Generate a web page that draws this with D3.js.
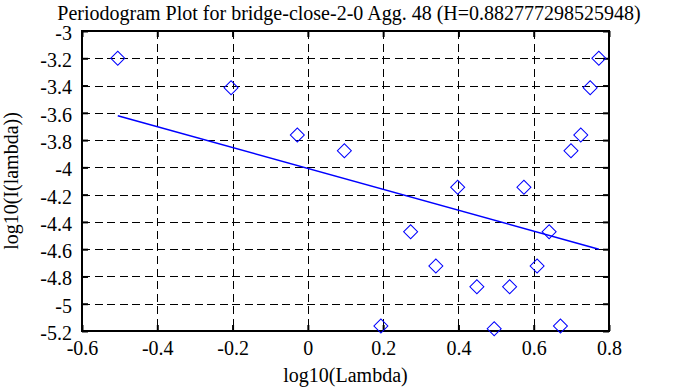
<!DOCTYPE html>
<html>
<head>
<meta charset="utf-8">
<script src="https://cdn.jsdelivr.net/npm/d3@7"></script>
<style>
  body { margin: 0; background: #fff; }
  svg { display: block; }
  svg text { font-family: "Liberation Serif", "Times New Roman", Times, serif; fill: #000; }
</style>
</head>
<body>
<div class="graph"></div>
<script>
// periodogram points
const logLambda = [-0.505, -0.204, -0.028, 0.097, 0.194, 0.273, 0.340, 0.398, 0.449, 0.495,
  0.536, 0.574, 0.609, 0.641, 0.671, 0.699, 0.725, 0.750, 0.773];
const logI = [-3.20, -3.416, -3.763, -3.878, -5.163, -4.472, -4.723, -4.146, -4.875, -5.183,
  -4.875, -4.146, -4.723, -4.472, -5.163, -3.878, -3.763, -3.416, -3.20];

// fitted line (two ends)
const fitX = [-0.505, 0.773];
const fitY = [-3.621, -4.600];

const xTicks = [-0.6, -0.4, -0.2, 0, 0.2, 0.4, 0.6, 0.8];
const xTickLabels = ['-0.6', '-0.4', '-0.2', '0', '0.2', '0.4', '0.6', '0.8'];
const yTicks = [-3, -3.2, -3.4, -3.6, -3.8, -4, -4.2, -4.4, -4.6, -4.8, -5, -5.2];
const yTickLabels = ['-3', '-3.2', '-3.4', '-3.6', '-3.8', '-4', '-4.2', '-4.4', '-4.6', '-4.8', '-5', '-5.2'];

const title = 'Periodogram Plot for bridge-close-2-0 Agg. 48 (H=0.882777298525948)';
const xTitle = 'log10(Lambda)';
const yTitle = 'log10(I(lambda))';

const width = 688;
const height = 387;
const margin = {
  top: 31, right: 79, bottom: 56, left: 82,
};
const fontSize = 20;
const blue = '#0000ff';

const svg = d3.select('.graph').append('svg')
  .attr('width', width)
  .attr('height', height);

const x = d3.scaleLinear().domain([-0.6, 0.8]).range([margin.left, width - margin.right]);
const y = d3.scaleLinear().domain([-5.2, -3]).range([height - margin.bottom, margin.top]);

// dashed grid
const grid = svg.append('g')
  .attr('stroke', '#000')
  .attr('stroke-width', 1)
  .attr('stroke-dasharray', '8,4.5')
  .attr('shape-rendering', 'crispEdges');

grid.selectAll('line.v')
  .data(xTicks.slice(1, -1))
  .enter()
  .append('line')
  .classed('v', true)
  .attr('x1', (d) => Math.round(x(d)) + 0.5)
  .attr('x2', (d) => Math.round(x(d)) + 0.5)
  .attr('y1', y(-3))
  .attr('y2', y(-5.2));

grid.selectAll('line.h')
  .data(yTicks.slice(1, -1))
  .enter()
  .append('line')
  .classed('h', true)
  .attr('x1', x(-0.6))
  .attr('x2', x(0.8))
  .attr('y1', (d) => Math.round(y(d)) + 0.5)
  .attr('y2', (d) => Math.round(y(d)) + 0.5);

// axes with inward ticks on all four sides
const tickLen = 6;
const styleAxis = (g) => {
  g.attr('font-family', null).attr('font-size', fontSize);
  g.select('.domain').remove();
  g.selectAll('.tick line').attr('stroke-width', 2);
};

svg.append('g')
  .attr('transform', `translate(0,${y(-5.2)})`)
  .call(d3.axisBottom(x).tickValues(xTicks).tickSize(-tickLen).tickPadding(10)
    .tickFormat((d, i) => xTickLabels[i]))
  .call(styleAxis);

svg.append('g')
  .attr('transform', `translate(0,${y(-3)})`)
  .call(d3.axisTop(x).tickValues(xTicks).tickSize(-tickLen).tickFormat(''))
  .call(styleAxis);

svg.append('g')
  .attr('transform', `translate(${x(-0.6)},0)`)
  .call(d3.axisLeft(y).tickValues(yTicks).tickSize(-tickLen).tickPadding(10)
    .tickFormat((d, i) => yTickLabels[i]))
  .call(styleAxis)
  .call((g) => g.selectAll('.tick text').attr('dy', '0.42em'));

svg.append('g')
  .attr('transform', `translate(${x(0.8)},0)`)
  .call(d3.axisRight(y).tickValues(yTicks).tickSize(-tickLen).tickFormat(''))
  .call(styleAxis);

// frame
svg.append('rect')
  .attr('x', x(-0.6))
  .attr('y', y(-3))
  .attr('width', x(0.8) - x(-0.6))
  .attr('height', y(-5.2) - y(-3))
  .attr('fill', 'none')
  .attr('stroke', '#000')
  .attr('stroke-width', 2);

// fitted line
const line = d3.line()
  .x((d) => x(d[0]))
  .y((d) => y(d[1]));

svg.append('path')
  .datum(d3.zip(fitX, fitY))
  .attr('d', line)
  .attr('fill', 'none')
  .attr('stroke', blue)
  .attr('stroke-width', 1.6);

// diamond markers
const diamond = d3.symbol().type(d3.symbolSquare).size(98);
svg.append('g')
  .selectAll('path')
  .data(d3.zip(logLambda, logI))
  .enter()
  .append('path')
  .attr('d', diamond)
  .attr('transform', (d) => `translate(${x(d[0])},${y(d[1])}) rotate(45)`)
  .attr('fill', 'none')
  .attr('stroke', blue)
  .attr('stroke-width', 1);

// titles
svg.append('text')
  .attr('x', 349)
  .attr('y', 20)
  .attr('text-anchor', 'middle')
  .attr('font-size', fontSize)
  .text(title);

svg.append('text')
  .attr('x', (x(-0.6) + x(0.8)) / 2)
  .attr('y', 382)
  .attr('text-anchor', 'middle')
  .attr('font-size', fontSize)
  .text(xTitle);

svg.append('text')
  .attr('transform', `translate(18,${(y(-3) + y(-5.2)) / 2}) rotate(-90)`)
  .attr('text-anchor', 'middle')
  .attr('font-size', fontSize)
  .text(yTitle);
</script>
</body>
</html>
